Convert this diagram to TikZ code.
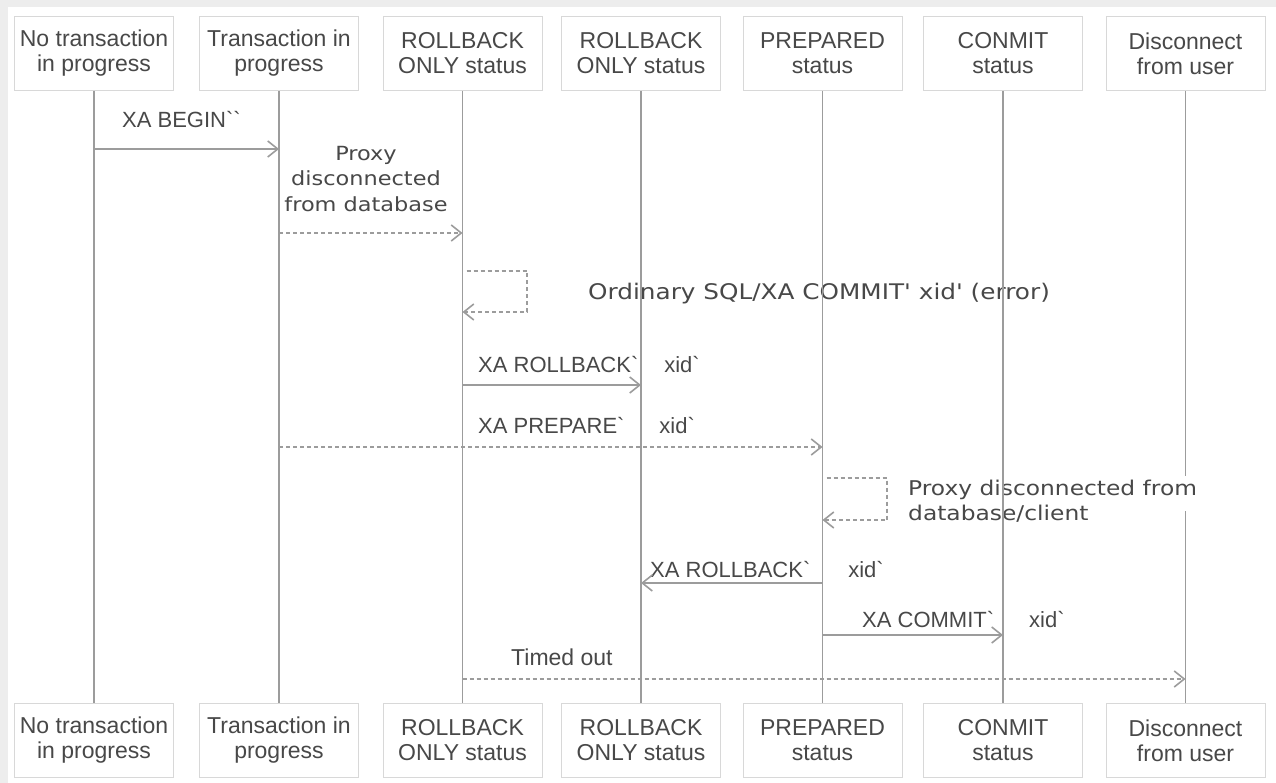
\documentclass[tikz,border=0pt]{standalone}
\usepackage{fontspec}
\setmainfont{Liberation Sans}
\newfontfamily\djvfont{DejaVu Sans}[Ligatures=TeXOff, FakeStretch=1.15]
\newfontfamily\libfont{Liberation Sans}[Ligatures=TeXOff]
\usetikzlibrary{arrows.meta}
\definecolor{ln}{HTML}{9C9C9C}
\definecolor{tx}{HTML}{484848}
\definecolor{bx}{HTML}{D8D8D8}
\begin{document}
\begin{tikzpicture}[x=1pt,y=-1pt,
  actor/.style={draw=bx, fill=white, line width=0.9pt, minimum width=159pt, minimum height=74pt,
    inner sep=0pt, align=center, text=tx, font=\libfont\fontsize{23}{25}\selectfont},
  life/.style={draw=ln, line width=1.6pt},
  msg/.style={draw=ln, line width=1.6pt, -{Straight Barb[length=10pt,width=16pt,line width=1.6pt]}},
  dmsg/.style={msg, dash pattern=on 4pt off 3pt},
  lbl/.style={text=tx, inner sep=0pt, anchor=base west, font=\libfont\fontsize{22}{25}\selectfont},
  wlbl/.style={text=tx, inner sep=0pt, font=\djvfont\fontsize{20}{25}\selectfont},
]
\fill[black!7] (0,0) rectangle (1276,783);
\fill[white] (8,7) rectangle (1276,783);
\useasboundingbox (0,0) rectangle (1276,783);

% labels drawn first (lifelines pass over them)
\node[lbl] (lbegin) at (122,128) {XA BEGIN``};
\node[wlbl, align=center, font=\djvfont\fontsize{19.5}{25.5}\selectfont] (lproxy) at (366,179) {Proxy\\disconnected\\from database};
\node[wlbl, anchor=base west, font=\djvfont\fontsize{21.5}{25}\selectfont] (lord) at (588,300) {Ordinary SQL/XA COMMIT' xid' (error)};
\node[lbl] (lrb1) at (478,372) {XA ROLLBACK`\hspace{26pt}xid`};
\node[lbl] (lprep) at (478,433) {XA PREPARE`\hspace{35pt}xid`};
\node[wlbl, align=left, anchor=west, font=\djvfont\fontsize{20.3}{25}\selectfont] (lproxy2) at (908,501) {Proxy disconnected from\\database/client};
\node[lbl] (lrb2) at (650,577) {XA ROLLBACK`\hspace{38pt}xid`};
\node[lbl] (lcom) at (862,627) {XA COMMIT`\hspace{35pt}xid`};
\node[lbl, font=\libfont\fontsize{23}{25}\selectfont] (ltime) at (511,665) {Timed out};

% participants
\node[actor] (a1) at (94,53.5) {No transaction\\in progress};
\node[actor] (a2) at (279,53.5) {Transaction in\\progress};
\node[actor] (a3) at (462.5,53.5) {ROLLBACK\\ONLY status};
\node[actor] (a4) at (641,53.5) {ROLLBACK\\ONLY status};
\node[actor] (a5) at (822.5,53.5) {PREPARED\\status};
\node[actor] (a6) at (1003,53.5) {CONMIT\\status};
\node[actor] (a7) at (1185.5,53.5) {Disconnect\\from user};

\node[actor] (b1) at (94,740.5) {No transaction\\in progress};
\node[actor] (b2) at (279,740.5) {Transaction in\\progress};
\node[actor] (b3) at (462.5,740.5) {ROLLBACK\\ONLY status};
\node[actor] (b4) at (641,740.5) {ROLLBACK\\ONLY status};
\node[actor] (b5) at (822.5,740.5) {PREPARED\\status};
\node[actor] (b6) at (1003,740.5) {CONMIT\\status};
\node[actor] (b7) at (1185.5,740.5) {Disconnect\\from user};

% lifelines
\draw[life] (a1.south) -- (b1.north);
\draw[life] (a2.south) -- (b2.north);
\draw[life] (a3.south) -- (b3.north);
\draw[life] (a4.south) -- (b4.north);
\draw[life] (a5.south) -- (b5.north);
\draw[life] (a6.south) -- (b6.north);
\coordinate (g1) at (a7 |- 0,476);
\coordinate (g2) at (a7 |- 0,511);
\draw[life] (a7.south) -- (g1);
\draw[life] (g2) -- (b7.north);

% messages
\draw[msg] (a1 |- 0,149) -- (a2 |- 0,149);
\draw[dmsg] (a2 |- 0,233) -- (a3 |- 0,233);
\draw[dmsg] ([xshift=4pt]a3 |- 0,271) -- (527,271) -- (527,312) -- (a3 |- 0,312);
\draw[msg] (a3 |- 0,385) -- (a4 |- 0,385);
\draw[dmsg] (a2 |- 0,447) -- (a5 |- 0,447);
\draw[dmsg] ([xshift=4pt]a5 |- 0,478) -- (887,478) -- (887,520) -- (a5 |- 0,520);
\draw[msg] (a5 |- 0,583) -- (a4 |- 0,583);
\draw[msg] (a5 |- 0,635) -- (a6 |- 0,635);
\draw[dmsg] (a3 |- 0,679) -- (a7 |- 0,679);
\end{tikzpicture}
\end{document}
